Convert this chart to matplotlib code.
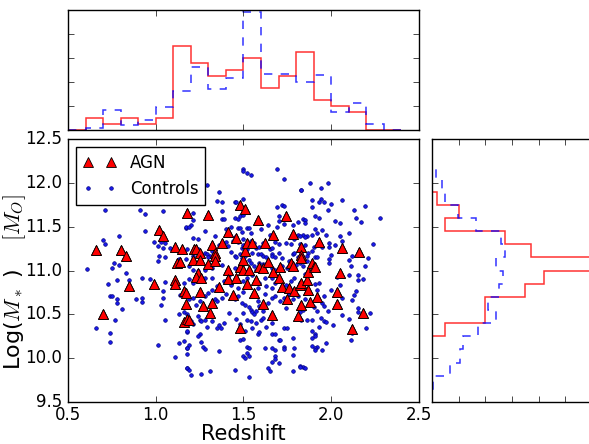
import numpy as np
import matplotlib
matplotlib.use('Agg')
import matplotlib.pyplot as plt

plt.style.use('classic')
plt.rcParams['mathtext.fontset'] = 'cm'

# AGN: (redshift, log stellar mass)
agn_pts = [
    (0.66, 11.23), (0.70, 10.50), (0.80, 11.23), (0.83, 11.17), (0.85, 10.82),
    (0.99, 10.85), (1.02, 11.46), (1.04, 11.39), (1.11, 11.27), (1.11, 10.89),
    (1.11, 10.85), (1.12, 11.08), (1.14, 11.10), (1.15, 11.24), (1.16, 10.77),
    (1.17, 10.74), (1.17, 10.62), (1.18, 11.66), (1.16, 10.41), (1.18, 10.45),
    (1.19, 10.44), (1.21, 11.12), (1.22, 11.24), (1.23, 11.25), (1.24, 10.97),
    (1.25, 11.20), (1.25, 11.12), (1.23, 10.93), (1.26, 10.91), (1.25, 10.75),
    (1.27, 10.60), (1.30, 11.07), (1.30, 11.63), (1.32, 10.63), (1.31, 10.51),
    (1.32, 11.29), (1.34, 11.20), (1.34, 11.16), (1.34, 11.11), (1.36, 10.81),
    (1.38, 11.31), (1.41, 11.44), (1.41, 11.01), (1.41, 10.90), (1.44, 10.72),
    (1.46, 10.91), (1.46, 11.37), (1.48, 11.75), (1.48, 11.04), (1.48, 10.34),
    (1.50, 11.12), (1.51, 11.70), (1.51, 11.22), (1.50, 11.01), (1.52, 10.85),
    (1.52, 11.31), (1.53, 11.01), (1.55, 11.31), (1.56, 10.74), (1.57, 10.89),
    (1.58, 11.58), (1.59, 11.04), (1.61, 10.62), (1.61, 11.03), (1.62, 11.31),
    (1.64, 11.10), (1.66, 10.49), (1.67, 11.41), (1.67, 10.98), (1.70, 10.91),
    (1.71, 11.04), (1.72, 10.81), (1.74, 11.62), (1.75, 10.67), (1.76, 10.80),
    (1.77, 11.09), (1.78, 11.05), (1.78, 11.42), (1.79, 10.77), (1.81, 10.48),
    (1.82, 10.83), (1.83, 10.86), (1.83, 11.27), (1.83, 11.18), (1.83, 11.14),
    (1.83, 10.61), (1.86, 10.89), (1.87, 10.78), (1.87, 10.98), (1.88, 10.64),
    (1.89, 11.09), (1.90, 11.04), (1.91, 11.04), (1.92, 10.70), (1.93, 11.32),
    (2.03, 10.76), (2.03, 10.62), (2.05, 10.97), (2.06, 11.26), (2.12, 10.33),
    (2.16, 11.21), (2.18, 10.52),
]

# control galaxies: (redshift, log stellar mass)
control_pts = [
    (0.71, 11.69), (0.91, 11.69), (0.94, 11.64), (1.04, 11.68), (1.17, 11.49),
    (0.94, 11.45), (0.79, 11.39), (0.70, 11.35), (0.71, 11.30), (0.99, 11.33),
    (1.01, 11.28), (1.03, 11.32), (1.05, 11.31), (1.04, 11.26), (1.02, 11.17),
    (1.05, 11.15), (1.08, 11.26), (1.01, 11.11), (0.76, 11.08), (0.79, 11.06),
    (0.75, 11.03), (0.61, 11.02), (1.13, 11.13), (1.12, 11.08), (1.17, 11.13),
    (0.83, 10.97), (0.73, 10.85), (0.78, 10.89), (0.85, 10.89), (0.92, 10.92),
    (0.97, 10.90), (1.05, 10.87), (0.74, 10.71), (0.75, 10.71), (0.78, 10.68),
    (0.78, 10.63), (0.89, 10.68), (0.92, 10.69), (0.92, 10.64), (0.81, 10.56),
    (1.04, 10.77), (1.04, 10.69), (1.03, 10.61), (0.77, 10.44), (0.66, 10.34),
    (0.74, 10.29), (0.74, 10.19), (1.01, 10.15), (1.05, 10.44), (1.13, 10.50),
    (1.11, 10.01), (1.16, 10.86), (1.16, 10.73), (1.14, 10.72), (1.16, 10.53),
    (1.16, 10.20), (1.13, 10.17), (1.18, 10.12), (1.18, 9.89), (1.18, 10.30),
    (1.18, 10.05),
    (1.50, 12.16), (1.50, 12.13), (1.52, 12.11), (1.54, 12.09), (1.69, 12.16),
    (1.73, 12.04), (1.29, 11.97), (1.36, 11.90), (1.83, 11.92), (1.35, 11.79),
    (1.38, 11.78), (1.45, 11.78), (1.46, 11.78), (1.50, 11.81), (1.38, 11.68),
    (1.38, 11.59), (1.39, 11.59), (1.45, 11.60), (1.47, 11.59), (1.48, 11.62),
    (1.50, 11.63), (1.21, 11.66), (1.21, 11.58), (1.69, 11.73), (1.72, 11.75),
    (1.73, 11.74), (1.70, 11.62), (1.70, 11.56), (1.73, 11.53), (1.69, 11.50),
    (1.78, 11.52), (1.81, 11.55), (1.84, 11.59), (1.81, 11.40), (1.84, 11.41),
    (1.17, 11.50), (1.20, 11.52), (1.19, 11.50), (1.28, 11.45), (1.21, 11.37),
    (1.24, 11.36), (1.34, 11.39), (1.40, 11.47), (1.43, 11.50), (1.47, 11.48),
    (1.48, 11.48), (1.49, 11.44), (1.52, 11.48), (1.53, 11.48), (1.54, 11.43),
    (1.60, 11.47), (1.64, 11.52), (1.65, 11.40), (1.66, 11.37), (1.68, 11.32),
    (1.70, 11.30), (1.74, 11.31), (1.77, 11.30), (1.79, 11.36), (1.82, 11.30),
    (1.85, 11.29), (1.18, 11.24), (1.21, 11.17), (1.24, 11.24), (1.28, 11.20),
    (1.29, 11.19), (1.32, 11.22), (1.31, 11.17), (1.36, 11.29), (1.40, 11.32),
    (1.41, 11.28), (1.44, 11.34), (1.45, 11.38), (1.47, 11.32), (1.49, 11.26),
    (1.50, 11.36), (1.50, 11.29), (1.52, 11.25), (1.54, 11.34), (1.56, 11.31),
    (1.57, 11.26), (1.58, 11.19), (1.59, 11.27), (1.61, 11.31), (1.65, 11.24),
    (1.66, 11.26), (1.66, 11.19), (1.55, 11.20), (1.60, 11.19), (1.61, 11.16),
    (1.63, 11.15), (1.66, 11.17), (1.68, 11.15), (1.70, 11.20), (1.72, 11.14),
    (1.76, 11.11), (1.78, 11.19), (1.79, 11.20), (1.81, 11.15), (1.83, 11.17),
    (1.43, 11.21), (1.45, 11.17), (1.46, 11.15), (1.48, 11.19), (1.49, 11.14),
    (1.51, 11.17), (1.53, 11.12), (1.54, 11.08), (1.45, 11.03), (1.49, 11.01),
    (1.53, 11.01), (1.56, 11.05), (1.57, 11.01), (1.59, 11.03), (1.59, 11.09),
    (1.61, 11.07), (1.66, 11.03), (1.68, 11.01), (1.72, 11.05), (1.75, 11.03),
    (1.80, 11.06), (1.82, 11.09), (1.38, 11.06), (1.32, 11.03), (1.28, 11.01),
    (1.24, 10.99), (1.21, 11.01), (1.19, 11.05), (1.26, 11.11), (1.30, 11.15),
    (1.19, 10.90), (1.21, 10.86), (1.25, 10.89), (1.28, 10.92), (1.32, 10.91),
    (1.35, 10.82), (1.39, 10.88), (1.42, 10.95), (1.43, 10.84), (1.47, 10.80),
    (1.50, 10.88), (1.52, 10.92), (1.55, 10.95), (1.58, 10.80), (1.59, 10.86),
    (1.62, 10.92), (1.63, 10.82), (1.66, 10.80), (1.66, 10.92), (1.68, 10.86),
    (1.72, 10.81), (1.74, 10.84), (1.77, 10.88), (1.79, 10.92), (1.82, 10.86),
    (1.84, 10.82), (1.19, 10.67), (1.21, 10.69), (1.23, 10.61), (1.25, 10.65),
    (1.28, 10.71), (1.30, 10.74), (1.32, 10.78), (1.34, 10.67), (1.35, 10.65),
    (1.38, 10.69), (1.40, 10.73), (1.42, 10.52), (1.45, 10.67), (1.47, 10.71),
    (1.49, 10.63), (1.50, 10.76), (1.51, 10.61), (1.53, 10.58), (1.54, 10.55),
    (1.55, 10.53), (1.56, 10.50), (1.57, 10.54), (1.58, 10.65), (1.59, 10.59),
    (1.61, 10.54), (1.62, 10.73), (1.64, 10.63), (1.66, 10.69), (1.68, 10.71),
    (1.71, 10.65), (1.73, 10.69), (1.74, 10.57), (1.76, 10.73), (1.78, 10.67),
    (1.81, 10.71), (1.82, 10.53), (1.18, 10.50), (1.20, 10.42), (1.21, 10.39),
    (1.24, 10.48), (1.25, 10.43), (1.26, 10.42), (1.28, 10.44), (1.29, 10.35),
    (1.32, 10.42), (1.35, 10.34), (1.36, 10.38), (1.37, 10.34), (1.39, 10.40),
    (1.46, 10.45), (1.48, 10.39), (1.50, 10.52), (1.52, 10.44), (1.51, 10.31),
    (1.54, 10.42), (1.55, 10.34), (1.57, 10.40), (1.58, 10.27), (1.59, 10.30),
    (1.60, 10.43), (1.61, 10.46), (1.63, 10.36), (1.66, 10.40), (1.66, 10.27),
    (1.68, 10.27), (1.70, 10.21), (1.71, 10.21), (1.73, 10.34), (1.75, 10.34),
    (1.78, 10.23), (1.81, 10.46), (1.18, 10.31), (1.19, 10.15), (1.18, 10.12),
    (1.25, 10.27), (1.24, 10.25), (1.26, 10.19), (1.27, 10.13), (1.28, 10.10),
    (1.36, 10.08), (1.48, 10.21), (1.50, 10.22), (1.52, 10.13), (1.53, 10.12),
    (1.52, 10.06), (1.50, 10.03), (1.51, 10.00), (1.53, 10.03), (1.62, 10.12),
    (1.66, 10.12), (1.68, 10.09), (1.68, 10.02), (1.68, 9.99), (1.70, 9.94),
    (1.73, 10.13), (1.73, 10.10), (1.78, 10.04), (1.79, 10.12), (1.66, 9.96),
    (1.64, 9.89), (1.65, 9.85), (1.18, 9.89), (1.19, 9.87), (1.20, 9.81),
    (1.26, 9.82), (1.31, 9.85), (1.45, 9.86), (1.53, 9.79), (1.78, 9.85),
    (1.82, 9.91), (1.84, 9.90),
    (1.88, 12.00), (1.98, 12.00), (1.83, 11.92), (1.94, 11.94), (1.89, 11.80),
    (1.94, 11.81), (1.93, 11.78), (1.96, 11.78), (2.00, 11.76), (2.06, 11.80),
    (1.89, 11.72), (1.98, 11.69), (2.13, 11.69), (2.19, 11.74), (1.91, 11.62),
    (1.93, 11.60), (1.85, 11.58), (1.85, 11.54), (2.02, 11.57), (2.05, 11.54),
    (2.14, 11.60), (2.17, 11.55), (2.28, 11.60), (1.91, 11.47), (1.95, 11.46),
    (1.92, 11.43), (1.89, 11.41), (1.86, 11.39), (1.82, 11.39), (1.85, 11.38),
    (1.97, 11.40), (2.10, 11.43), (1.99, 11.31), (2.02, 11.29), (1.99, 11.27),
    (1.95, 11.27), (1.93, 11.31), (2.05, 11.39), (2.06, 11.34), (1.90, 11.27),
    (1.87, 11.20), (1.89, 11.22), (1.91, 11.15), (1.92, 11.15), (1.86, 11.17),
    (1.84, 11.05), (2.00, 11.18), (1.99, 11.13), (1.99, 11.08), (2.12, 11.16),
    (2.10, 11.12), (2.21, 11.14), (2.19, 11.05), (2.24, 11.30), (2.11, 11.05),
    (1.86, 11.11),
    (1.85, 10.96), (2.03, 10.93), (2.10, 10.95), (2.15, 10.95), (2.15, 10.89),
    (2.18, 10.90), (1.93, 10.86), (1.91, 10.85), (1.92, 10.78), (1.84, 10.80),
    (2.05, 10.83), (2.00, 10.78), (2.06, 10.69), (2.14, 10.77), (2.13, 10.72),
    (2.12, 10.66), (1.85, 10.68), (1.96, 10.71), (1.95, 10.63), (1.96, 10.59),
    (1.92, 10.54), (1.90, 10.58), (1.98, 10.54), (1.84, 10.55), (2.06, 10.49),
    (2.10, 10.45), (2.15, 10.57), (2.15, 10.53), (2.22, 10.51), (2.20, 10.34),
    (2.12, 10.29), (2.11, 10.21), (1.83, 10.43), (1.89, 10.44), (1.94, 10.46),
    (1.96, 10.42), (1.97, 10.41), (2.01, 10.38), (1.93, 10.35), (1.89, 10.31),
    (1.91, 10.27), (1.91, 10.25), (1.89, 10.23), (1.97, 10.17), (1.89, 10.14),
    (1.92, 10.13), (1.91, 10.12), (1.91, 10.09), (1.95, 10.09), (1.82, 9.90),
    (1.85, 9.89), (1.86, 10.44),
]

# redshift histograms (normalised), bins of 0.1
z_edges = [0.5, 0.6, 0.7, 0.8, 0.9, 1.0, 1.1, 1.2, 1.3, 1.4, 1.5,
           1.6, 1.7, 1.8, 1.9, 2.0, 2.1, 2.2, 2.3, 2.4]
z_agn = [0.0, 0.2, 0.1, 0.2, 0.1, 0.2, 1.4, 1.11, 0.9, 1.0,
         1.2, 0.7, 0.9, 1.3, 0.5, 0.4, 0.3, 0.0, 0.0]
z_ctrl = [0.0, 0.04, 0.33, 0.08, 0.16, 0.38, 0.65, 1.05, 0.69, 0.87,
          1.96, 0.94, 0.93, 0.80, 0.91, 0.30, 0.45, 0.10, 0.0]

# mass histograms (normalised), bins of 0.15
m_edges = [9.65, 9.80, 9.95, 10.10, 10.25, 10.40, 10.55, 10.70, 10.85,
           11.00, 11.15, 11.30, 11.45, 11.60, 11.75, 11.90, 12.05, 12.20]
m_agn = [0.0, 0.0, 0.0, 0.0, 0.12, 0.5, 0.5, 0.87, 1.05,
         1.62, 0.93, 0.69, 0.12, 0.25, 0.05, 0.0, 0.0]
m_ctrl = [0.01, 0.165, 0.265, 0.29, 0.43, 0.6, 0.525, 0.63, 0.665,
          0.6, 0.69, 0.65, 0.41, 0.24, 0.125, 0.09, 0.04]

agn_z, agn_m = np.array(agn_pts).T
ctrl_z, ctrl_m = np.array(control_pts).T

fig = plt.figure(figsize=(5.89, 4.44), dpi=100, facecolor='white')

W, H = 589.0, 444.0
ax = fig.add_axes([68 / W, (H - 402) / H, 351 / W, 263 / H])
axt = fig.add_axes([68 / W, (H - 130) / H, 351 / W, 120 / H])
axr = fig.add_axes([432 / W, (H - 402) / H, 213 / W, 263 / H])

ax.plot(agn_z, agn_m, '^', ms=6.5, mfc='red', mec='k', mew=0.6, label='AGN')
ax.plot(ctrl_z, ctrl_m, 'o', ms=2.6, mfc='#1a1aee', mec='#000080', mew=0.5,
        label='Controls')
# redraw AGN on top of the controls
ax.plot(agn_z, agn_m, '^', ms=6.5, mfc='red', mec='k', mew=0.6)
ax.set_xlim(0.5, 2.5)
ax.set_ylim(9.5, 12.5)
ax.set_xticks([0.5, 1.0, 1.5, 2.0, 2.5])
ax.set_yticks([9.5, 10.0, 10.5, 11.0, 11.5, 12.0, 12.5])
ax.tick_params(labelsize=12)
ax.tick_params(axis='x', pad=3)
ax.set_xlabel('Redshift', fontsize=15)
ax.set_ylabel(r'Log($M_*$ )    $[M_O]$', fontsize=16)
ax.xaxis.set_label_coords(0.5, -0.085)
ax.yaxis.set_label_coords(-0.115, 0.455)
leg = ax.legend(loc='upper left', numpoints=2, fontsize=12, fancybox=False)
leg.get_frame().set_edgecolor('k')

axt.stairs(z_agn, z_edges, color='red', lw=1.1, alpha=0.8)
axt.stairs(z_ctrl, z_edges, color='blue', lw=1.1, ls='--', alpha=0.8)
axt.set_xlim(0.5, 2.5)
axt.set_ylim(0, 2.0)
axt.set_xticks([0.5, 1.0, 1.5, 2.0, 2.5])
axt.set_yticks([0, 0.4, 0.8, 1.2, 1.6, 2.0])
axt.set_xticklabels([])
axt.set_yticklabels([])

axr.stairs(m_agn, m_edges, orientation='horizontal', color='red', lw=1.1, alpha=0.8)
axr.stairs(m_ctrl, m_edges, orientation='horizontal', color='blue', lw=1.1,
           ls='--', alpha=0.8)
axr.set_ylim(9.5, 12.5)
axr.set_xlim(0, 2.0)
axr.set_yticks([9.5, 10.0, 10.5, 11.0, 11.5, 12.0, 12.5])
axr.set_xticks([0, 0.25, 0.5, 0.75, 1.0, 1.25, 1.5, 1.75, 2.0])
axr.set_xticklabels([])
axr.set_yticklabels([])

fig.savefig('out.png', dpi=100, facecolor='white')
